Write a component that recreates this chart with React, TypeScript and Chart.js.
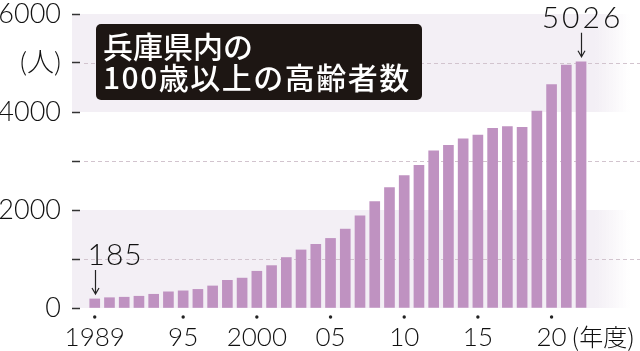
import React, { useEffect, useRef } from 'react';
import { Chart, registerables } from 'chart.js';

Chart.register(...registerables);

const YEARS = [1989, 1990, 1991, 1992, 1993, 1994, 1995, 1996, 1997, 1998, 1999, 2000, 2001, 2002, 2003, 2004, 2005, 2006, 2007, 2008, 2009, 2010, 2011, 2012, 2013, 2014, 2015, 2016, 2017, 2018, 2019, 2020, 2021, 2022];
const COUNTS = [185, 210, 220, 240, 280, 330, 350, 380, 450, 565, 610, 750, 865, 1030, 1185, 1300, 1420, 1610, 1880, 2170, 2460, 2700, 2910, 3210, 3320, 3450, 3530, 3665, 3700, 3685, 4020, 4560, 4960, 5026];
const X_TICKS = [1989, 1995, 2000, 2005, 2010, 2015, 2020];
const X_TICK_LABELS = ['1989', '95', '2000', '05', '10', '15', '20'];
const Y_TICK_LABELS: Record<number, string> = { 0: '0', 2000: '2000', 4000: '4000', 5000: '(人)', 6000: '6000' };
const DASHED_VALUES = [1000, 3000, 5000];
const BAND_RANGES = [[0, 2000], [4000, 6000]];
const CALLOUTS = [
  { year: 1989, value: 185, text: '185', align: 'left' },
  { year: 2022, value: 5026, text: '5026', align: 'center' },
];
const TITLE_LINES = ['兵庫県内の', '100歳以上の高齢者数'];
const X_UNIT = '(年度)';

const NUM_FONT = 'Lato, "Noto Sans CJK JP", sans-serif';

const decor = {
  id: 'decor',
  beforeDraw(chart: any) {
    const { ctx, chartArea } = chart;
    const y = chart.scales.y;
    ctx.save();
    const x0 = 72;
    const x1 = 630;
    for (const [a, b] of BAND_RANGES) {
      const top = y.getPixelForValue(b);
      const bot = y.getPixelForValue(a);
      const g = ctx.createLinearGradient(x0, 0, x1, 0);
      g.addColorStop(0, '#f3eff5');
      g.addColorStop((595 - x0) / (x1 - x0), '#f3eff5');
      g.addColorStop(1, 'rgba(243,239,245,0)');
      ctx.fillStyle = g;
      ctx.fillRect(x0, top, x1 - x0, bot - top);
    }
    ctx.setLineDash([4, 3]);
    ctx.lineWidth = 1;
    ctx.strokeStyle = '#d2c4ce';
    for (const v of DASHED_VALUES) {
      const py = Math.round(y.getPixelForValue(v)) + 0.5;
      ctx.beginPath();
      ctx.moveTo(84, py);
      ctx.lineTo(chartArea.right, py);
      ctx.stroke();
    }
    ctx.restore();
  },
  afterDatasetsDraw(chart: any) {
    const { ctx, chartArea } = chart;
    const x = chart.scales.x;
    const y = chart.scales.y;
    ctx.save();
    ctx.fillStyle = '#222';
    for (const v of X_TICKS) {
      const px = x.getPixelForValue(v);
      ctx.beginPath();
      ctx.arc(px, chartArea.bottom + 9, 1.7, 0, Math.PI * 2);
      ctx.fill();
    }
    ctx.strokeStyle = '#222';
    ctx.lineWidth = 1.2;
    for (const c of CALLOUTS) {
      const px = Math.round(x.getPixelForValue(c.year)) + 0.5;
      const top = y.getPixelForValue(c.value);
      const end = top - 5;
      const start = end - 24;
      ctx.beginPath();
      ctx.moveTo(px, start);
      ctx.lineTo(px, end);
      ctx.moveTo(px - 3.5, end - 6);
      ctx.lineTo(px, end);
      ctx.lineTo(px + 3.5, end - 6);
      ctx.stroke();
      ctx.font = '300 30px ' + NUM_FONT;
      (ctx as any).letterSpacing = c.align === 'left' ? '1px' : '3px';
      ctx.textBaseline = 'alphabetic';
      ctx.textAlign = c.align === 'left' ? 'left' : 'center';
      ctx.fillStyle = '#111';
      ctx.fillText(c.text, c.align === 'left' ? px - 8 : px + 1, start - 5);
    }
    (ctx as any).letterSpacing = '0px';
    ctx.font = '300 24px "Noto Sans CJK JP", sans-serif';
    ctx.textAlign = 'left';
    ctx.textBaseline = 'middle';
    ctx.fillStyle = '#111';
    ctx.fillText(X_UNIT, x.getPixelForValue(2020) + 20, chartArea.bottom + 29);
    ctx.restore();
  },
};

export default function App() {
  const ref = useRef<HTMLCanvasElement>(null);
  useEffect(() => {
    const chart = new Chart(ref.current!, {
      type: 'bar',
      data: {
        datasets: [
          {
            data: YEARS.map((yr, i) => ({ x: yr, y: COUNTS[i] })),
            backgroundColor: '#bf92c1',
            barThickness: 10,
          },
        ],
      },
      options: {
        animation: false,
        responsive: false,
        maintainAspectRatio: false,
        layout: { padding: { top: 14, left: 0, right: 0, bottom: 0 } },
        plugins: { legend: { display: false }, tooltip: { enabled: false } },
        scales: {
          x: {
            type: 'linear',
            offset: false,
            min: 1988,
            max: 2026,
            afterBuildTicks: (s: any) => {
              s.ticks = X_TICKS.map((v) => ({ value: v }));
            },
            afterFit: (s: any) => {
              s.height = 43;
              s.paddingLeft = 0;
              s.paddingRight = 0;
            },
            grid: { display: false, drawTicks: false },
            border: { display: false },
            ticks: {
              autoSkip: false,
              maxRotation: 0,
              padding: 14,
              color: '#111',
              font: { family: NUM_FONT, size: 26, weight: '300' as any },
              callback: (v: any) => {
                const i = X_TICKS.indexOf(Number(v));
                return i >= 0 ? X_TICK_LABELS[i] : '';
              },
            },
          },
          y: {
            min: 0,
            max: 6000,
            afterFit: (s: any) => {
              s.width = 80;
              s.paddingTop = 0;
              s.paddingBottom = 0;
            },
            grid: { drawOnChartArea: false, drawTicks: true, tickLength: 8, tickColor: '#333', tickWidth: 1.5 },
            border: { display: false },
            ticks: {
              stepSize: 1000,
              padding: 11,
              color: '#111',
              font: { family: NUM_FONT, size: 27, weight: '300' as any },
              callback: (v: any) => Y_TICK_LABELS[Number(v)] ?? '',
            },
          },
        },
      },
      plugins: [decor],
    });
    return () => chart.destroy();
  }, []);
  return (
    <div style={{ position: 'absolute', left: 0, top: 0, width: 640, height: 351, background: '#fff' }}>
      <canvas ref={ref} width={640} height={351} style={{ display: 'block' }} />
      <div
        style={{
          position: 'absolute',
          left: 96,
          top: 24,
          width: 326,
          height: 76,
          boxSizing: 'border-box',
          background: '#1d1613',
          borderRadius: 5,
          color: '#fff',
          fontFamily: '"Noto Sans CJK JP", sans-serif',
          fontWeight: 500,
          fontSize: 30,
          lineHeight: '31px',
          padding: '6px 0 0 7px',
          whiteSpace: 'nowrap',
        }}
      >
        <div>{TITLE_LINES[0]}</div>
        <div style={{ letterSpacing: '1.5px' }}>{TITLE_LINES[1]}</div>
      </div>
    </div>
  );
}
